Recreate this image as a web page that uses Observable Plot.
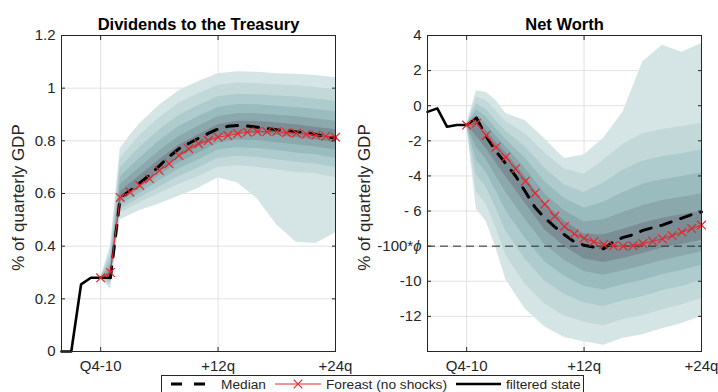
<!DOCTYPE html>
<html>
<head>
<meta charset="utf-8">
<script src="https://cdn.jsdelivr.net/npm/d3@7"></script>
<script src="https://cdn.jsdelivr.net/npm/@observablehq/plot@0.6"></script>
<style>
  html, body { margin: 0; padding: 0; background: #fff; overflow: hidden; }
  body { width: 718px; height: 392px; position: relative; font-family: "Liberation Sans", Arial, sans-serif; color: #262626; }
  .panel { position: absolute; top: 0; }
  #legend { position: absolute; left: 161px; top: 375px; width: 423px; height: 26px; border: 1px solid #262626; background: #fff; box-sizing: border-box; }
  #legend svg { position: absolute; left: 0; top: 0; }
</style>
</head>
<body>
<div id="left" class="panel" style="left:0px"></div>
<div id="right" class="panel" style="left:359px"></div>
<div id="legend"></div>
<script>
// Horizon axis: quarters relative to Q4-10
const xTicks = [0, 12, 24];
const xTickText = ["Q4-10", "+12q", "+24q"];

// Fan-chart horizons (quarters) shared by every percentile series
const fanQ = [0, 1, 2, 3, 4, 6, 8, 10, 12, 14, 16, 18, 20, 22, 24];

// ---- Dividends to the Treasury (% of quarterly GDP) ----
const divTicks = [0, 0.2, 0.4, 0.6, 0.8, 1, 1.2];
const divTickText = ["0", "0.2", "0.4", "0.6", "0.8", "1", "1.2"];

const divP95 = [0.28, 0.40, 0.77, 0.82, 0.865, 0.935, 0.99, 1.025, 1.055, 1.062, 1.06, 1.055, 1.053, 1.048, 1.04];
const divP90 = [0.28, 0.378, 0.733, 0.778, 0.82, 0.888, 0.943, 0.979, 1.011, 1.019, 1.018, 1.012, 1.009, 1.003, 0.995];
const divP80 = [0.28, 0.356, 0.696, 0.737, 0.775, 0.841, 0.896, 0.933, 0.967, 0.976, 0.975, 0.970, 0.966, 0.959, 0.95];
const divP70 = [0.28, 0.336, 0.663, 0.699, 0.735, 0.799, 0.854, 0.892, 0.927, 0.938, 0.937, 0.931, 0.927, 0.919, 0.91];
const divP60 = [0.28, 0.319, 0.633, 0.666, 0.699, 0.761, 0.816, 0.855, 0.892, 0.904, 0.903, 0.897, 0.892, 0.883, 0.874];
const divP55 = [0.28, 0.303, 0.607, 0.637, 0.667, 0.728, 0.783, 0.823, 0.861, 0.874, 0.873, 0.868, 0.861, 0.852, 0.842];
const divP45 = [0.28, 0.284, 0.577, 0.603, 0.629, 0.686, 0.738, 0.777, 0.816, 0.828, 0.827, 0.821, 0.813, 0.804, 0.793];
const divP40 = [0.28, 0.277, 0.566, 0.591, 0.616, 0.668, 0.717, 0.753, 0.792, 0.802, 0.801, 0.793, 0.785, 0.777, 0.765];
const divP30 = [0.28, 0.269, 0.554, 0.577, 0.601, 0.648, 0.693, 0.727, 0.765, 0.774, 0.771, 0.763, 0.754, 0.747, 0.734];
const divP20 = [0.28, 0.26, 0.54, 0.562, 0.584, 0.625, 0.665, 0.697, 0.734, 0.741, 0.737, 0.728, 0.719, 0.712, 0.699];
const divP10 = [0.28, 0.25, 0.525, 0.545, 0.565, 0.60, 0.635, 0.665, 0.70, 0.705, 0.70, 0.69, 0.68, 0.675, 0.66];
const divP5  = [0.28, 0.235, 0.50, 0.517, 0.535, 0.56, 0.59, 0.62, 0.66, 0.64, 0.58, 0.48, 0.415, 0.41, 0.45];

const filteredQ = [-4, -3, -2, -1, 0, 1];
const divFiltered = [0, 0, 0.255, 0.28, 0.28, 0.28];
const medianQ = d3.range(1, 25);
const divMedian = [0.28, 0.585, 0.61, 0.64, 0.67, 0.705, 0.74, 0.77, 0.79, 0.81, 0.828, 0.845,
                   0.855, 0.858, 0.856, 0.852, 0.847, 0.842, 0.838, 0.834, 0.83, 0.824, 0.816, 0.81];
const forecastQ = d3.range(0, 25);
const divForecast = [0.28, 0.30, 0.585, 0.605, 0.63, 0.656, 0.687, 0.713, 0.744, 0.77, 0.789, 0.801, 0.814,
                     0.82, 0.827, 0.833, 0.835, 0.835, 0.835, 0.831, 0.829, 0.825, 0.821, 0.817, 0.814];

// ---- Net Worth (% of quarterly GDP) ----
const nwTicks = [4, 2, 0, -2, -4, -6, -8, -10, -12];
const nwTickText = ["4", "2", "0", "-2", "-4", "- 6", "-100*\u03d5", "-10", "-12"];
const nwThreshold = [-8];

const nwP95 = [-1.1, 0.85, 0.75, 0.3, -0.45, -0.85, -1.9, -3.0, -2.8, -1.85, -0.35, 2.5, 3.45, 3.05, 3.55];
const nwP90 = [-1.1, 0.5, 0.3, -0.3, -0.9, -1.6, -2.7, -3.6, -3.9, -3.1, -2.2, -1.6, -1.35, -1.2, -1.0];
const nwP80 = [-1.1, 0.11, -0.22, -0.85, -1.45, -2.35, -3.58, -4.51, -4.94, -4.4, -3.68, -3.16, -2.9, -2.73, -2.53];
const nwP70 = [-1.1, -0.22, -0.66, -1.31, -1.91, -2.99, -4.33, -5.28, -5.82, -5.5, -4.94, -4.48, -4.21, -4.03, -3.83];
const nwP60 = [-1.1, -0.52, -1.06, -1.73, -2.33, -3.57, -5.01, -5.98, -6.62, -6.5, -6.08, -5.68, -5.4, -5.21, -5.01];
const nwP55 = [-1.1, -0.77, -1.4, -2.08, -2.68, -4.06, -5.59, -6.57, -7.3, -7.35, -7.04, -6.7, -6.41, -6.21, -6.01];
const nwP45 = [-1.1, -1.74, -2.44, -3.26, -4.04, -5.57, -7.08, -8.02, -8.73, -8.93, -8.7, -8.42, -8.11, -7.9, -7.67];
const nwP40 = [-1.1, -2.37, -3.07, -4.0, -4.93, -6.49, -7.92, -8.81, -9.45, -9.65, -9.4, -9.13, -8.81, -8.58, -8.33];
const nwP30 = [-1.1, -3.11, -3.81, -4.85, -5.97, -7.55, -8.9, -9.72, -10.29, -10.49, -10.2, -9.94, -9.62, -9.38, -9.09];
const nwP20 = [-1.1, -3.94, -4.64, -5.82, -7.14, -8.76, -10.0, -10.76, -11.23, -11.43, -11.11, -10.87, -10.54, -10.28, -9.96];
const nwP10 = [-1.1, -4.92, -5.62, -6.96, -8.52, -10.18, -11.3, -11.98, -12.34, -12.54, -12.18, -11.96, -11.62, -11.34, -10.98];
const nwP5  = [-1.1, -5.9, -6.6, -8.1, -9.9, -11.6, -12.6, -13.2, -13.45, -13.65, -13.25, -13.05, -12.7, -12.4, -12.0];

const nwFiltered = [-0.35, -0.15, -1.2, -1.1, -1.1, -0.7];
const nwMedian = [-0.7, -1.75, -2.6, -3.3, -4.0, -4.9, -5.8, -6.4, -6.9, -7.35, -7.75, -7.95,
                  -8.05, -8.15, -7.75, -7.5, -7.35, -7.1, -6.95, -6.8, -6.6, -6.4, -6.2, -6.05];
const nwForecast = [-1.1, -1.0, -1.69, -2.36, -2.93, -3.59, -4.3, -4.98, -5.6, -6.3, -6.88, -7.3, -7.55,
                    -7.75, -7.9, -7.98, -8.0, -7.97, -7.85, -7.72, -7.58, -7.4, -7.2, -7.0, -6.8];

// Shades from the widest band to the innermost one
const fanColors = ["#d5e4e4", "#c2d8d9", "#aecbcd", "#9bbcbf", "#8ba8ad", "#7b8e95"];
const gridColor = "#e1e1e1";
const ink = "#262626";
const red = "#e8262d";

function bandRows(lo, hi) {
  return fanQ.map((q, i) => ({q, lo: lo[i], hi: hi[i]}));
}
function lineRows(qs, vs) {
  return qs.map((q, i) => ({q, v: vs[i]}));
}

function drawPanel(o) {
  const marks = [
    Plot.ruleY(o.yTicks, {stroke: gridColor}),
    Plot.ruleX(xTicks, {stroke: gridColor}),
    ...o.bands.map((b, i) => Plot.areaY(b, {x: "q", y1: "lo", y2: "hi", fill: fanColors[i]})),
  ];
  if (o.threshold) {
    marks.push(Plot.ruleY(o.threshold, {stroke: ink, strokeWidth: 1, strokeDasharray: "8,5"}));
  }
  marks.push(
    Plot.line(o.filtered, {x: "q", y: "v", stroke: "#000", strokeWidth: 2.6}),
    Plot.line(o.median, {x: "q", y: "v", stroke: "#000", strokeWidth: 3, strokeDasharray: "11,10"}),
    Plot.line(o.forecast, {x: "q", y: "v", stroke: red, strokeWidth: 1}),
    Plot.dot(o.forecast, {x: "q", y: "v", symbol: "times", r: 4, stroke: red, strokeWidth: 1.2}),
    Plot.frame({stroke: ink, strokeWidth: 1}),
    Plot.axisX(xTicks, {anchor: "bottom", label: null, tickSize: -4, tickPadding: 13,
                        tickFormat: d => xTickText[xTicks.indexOf(d)]}),
    Plot.axisX(xTicks, {anchor: "top", label: null, tickSize: -4, tickFormat: () => ""}),
    Plot.axisY(o.yTicks, {anchor: "left", label: null, tickSize: -4, tickPadding: 10,
                          tickFormat: d => o.yTickText[o.yTicks.indexOf(d)]}),
    Plot.axisY(o.yTicks, {anchor: "right", label: null, tickSize: -4, tickFormat: () => ""}),
    Plot.text([o.title], {frameAnchor: "top", dy: -11, lineAnchor: "middle", textAnchor: "middle",
                          fontSize: 16.5, fontWeight: "bold", fill: "#000"}),
    Plot.text(["% of quarterly GDP"], {frameAnchor: "left", dx: o.labelDx, dy: 4, rotate: -90,
                                       textAnchor: "middle", lineAnchor: "middle", fontSize: 17, fill: ink})
  );
  return Plot.plot({
    width: 359,
    height: 392,
    marginLeft: o.marginLeft,
    marginRight: o.marginRight,
    marginTop: 35,
    marginBottom: 41,
    x: {domain: [-4, 24], axis: null},
    y: {domain: o.yDomain, axis: null},
    style: {fontFamily: "'Liberation Sans', Arial, sans-serif", fontSize: "15px", color: ink, overflow: "visible"},
    marks
  });
}

const left = drawPanel({
  title: "Dividends to the Treasury",
  marginLeft: 61, marginRight: 24, labelDx: -43,
  yDomain: [0, 1.2], yTicks: divTicks, yTickText: divTickText,
  bands: [
    bandRows(divP5, divP95), bandRows(divP10, divP90), bandRows(divP20, divP80),
    bandRows(divP30, divP70), bandRows(divP40, divP60), bandRows(divP45, divP55)
  ],
  filtered: lineRows(filteredQ, divFiltered),
  median: lineRows(medianQ, divMedian),
  forecast: lineRows(forecastQ, divForecast)
});
document.getElementById("left").appendChild(left);

const right = drawPanel({
  title: "Net Worth",
  marginLeft: 68, marginRight: 17, labelDx: -63,
  yDomain: [-14, 4], yTicks: nwTicks, yTickText: nwTickText,
  threshold: nwThreshold,
  bands: [
    bandRows(nwP5, nwP95), bandRows(nwP10, nwP90), bandRows(nwP20, nwP80),
    bandRows(nwP30, nwP70), bandRows(nwP40, nwP60), bandRows(nwP45, nwP55)
  ],
  filtered: lineRows(filteredQ, nwFiltered),
  median: lineRows(medianQ, nwMedian),
  forecast: lineRows(forecastQ, nwForecast)
});
document.getElementById("right").appendChild(right);

// Italic phi in the threshold tick label
const svgNS = "http://www.w3.org/2000/svg";
for (const t of right.querySelectorAll("text")) {
  if (t.textContent === "-100*\u03d5") {
    t.textContent = "-100*";
    const ts = document.createElementNS(svgNS, "tspan");
    ts.setAttribute("font-style", "italic");
    ts.textContent = "\u03d5";
    t.appendChild(ts);
  }
}

// Legend
const legendItems = ["Median", "Foreast (no shocks)", "filtered state"];
const lg = d3.select("#legend").append("svg").attr("width", 423).attr("height", 26)
  .style("font-family", "'Liberation Sans', Arial, sans-serif").style("font-size", "13.7px");
lg.append("line").attr("x1", 9).attr("x2", 47).attr("y1", 8).attr("y2", 8)
  .attr("stroke", "#000").attr("stroke-width", 3).attr("stroke-dasharray", "11,12");
lg.append("text").attr("x", 59).attr("y", 13).attr("fill", ink).text(legendItems[0]);
lg.append("line").attr("x1", 113).attr("x2", 159).attr("y1", 8).attr("y2", 8)
  .attr("stroke", red).attr("stroke-width", 1);
lg.append("path").attr("d", d3.symbol(d3.symbolTimes, 50)()).attr("transform", "translate(136,8)")
  .attr("fill", "none").attr("stroke", red).attr("stroke-width", 1.2);
lg.append("text").attr("x", 164).attr("y", 13).attr("fill", ink).text(legendItems[1]);
lg.append("line").attr("x1", 294).attr("x2", 339).attr("y1", 8).attr("y2", 8)
  .attr("stroke", "#000").attr("stroke-width", 2.6);
lg.append("text").attr("x", 344).attr("y", 13).attr("fill", ink).text(legendItems[2]);
</script>
</body>
</html>
